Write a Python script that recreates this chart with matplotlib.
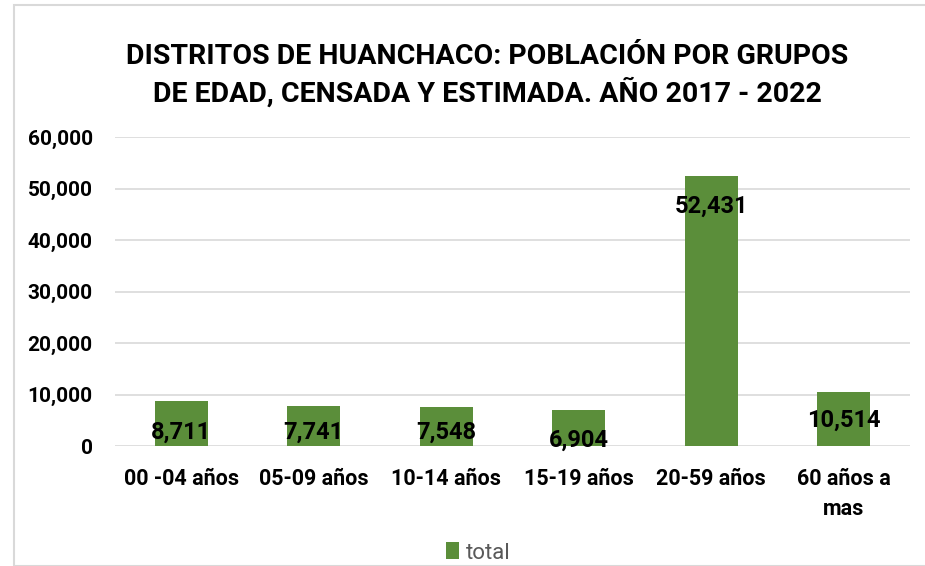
import matplotlib
matplotlib.use("Agg")
import matplotlib.pyplot as plt
from matplotlib.patches import Rectangle
from matplotlib.ticker import FuncFormatter

categories = ["00 -04 años", "05-09 años", "10-14 años", "15-19 años", "20-59 años", "60 años a\nmas"]
values = [8711, 7741, 7548, 6904, 52431, 10514]
label_y = [2700, 2700, 2700, 1200, 46600, 4900]
yticks = [0, 10000, 20000, 30000, 40000, 50000, 60000]
title = "DISTRITOS DE HUANCHACO: POBLACIÓN POR GRUPOS\nDE EDAD, CENSADA Y ESTIMADA. AÑO 2017 - 2022"
series_name = "total"

plt.rcParams['font.family'] = ["Roboto", "DejaVu Sans"]

W, H = 925, 566
fig = plt.figure(figsize=(W/100, H/100), dpi=100)
fig.patches.append(Rectangle((14/W, 0), 1.2, (H-5)/H, transform=fig.transFigure,
                             fill=False, edgecolor="#D9D9D9", linewidth=1.5))

ax = fig.add_axes([115/W, 1-446/H, (910-115)/W, (446-137)/H])
x = list(range(len(categories)))
ax.bar(x, values, width=0.4, color="#5B8E3A", label=series_name, zorder=2)
ax.set_xlim(-0.5, len(categories)-0.5)
ax.set_ylim(0, 60000)
ax.set_yticks(yticks)
ax.yaxis.set_major_formatter(FuncFormatter(lambda v, p: f"{int(v):,}"))
ax.grid(axis="y", color="#D9D9D9", linewidth=1.2, zorder=0)
for s in ax.spines.values():
    s.set_visible(False)
ax.tick_params(axis="y", length=0, labelsize=15, pad=16)
ax.tick_params(axis="x", length=0, labelsize=15.5, pad=16)
ax.set_xticks(x)
ax.set_xticklabels(categories, fontweight="bold", linespacing=1.45)
for lab in ax.get_yticklabels():
    lab.set_fontweight("bold")

for xi, v, ly in zip(x, values, label_y):
    ax.text(xi, ly, f"{v:,}", ha="center", va="center", fontsize=17, fontweight="bold", color="black", zorder=3)

fig.text(487/W, 1-75/H, title, ha="center", va="center", fontsize=20.5, fontweight="bold", linespacing=1.3)

fig.legend(loc="center", bbox_to_anchor=(478/W, 1-553/H), frameon=False, fontsize=16,
           handlelength=0.6, handleheight=0.8, handletextpad=0.3, labelcolor="#595959")

fig.savefig("out.png", dpi=100)
